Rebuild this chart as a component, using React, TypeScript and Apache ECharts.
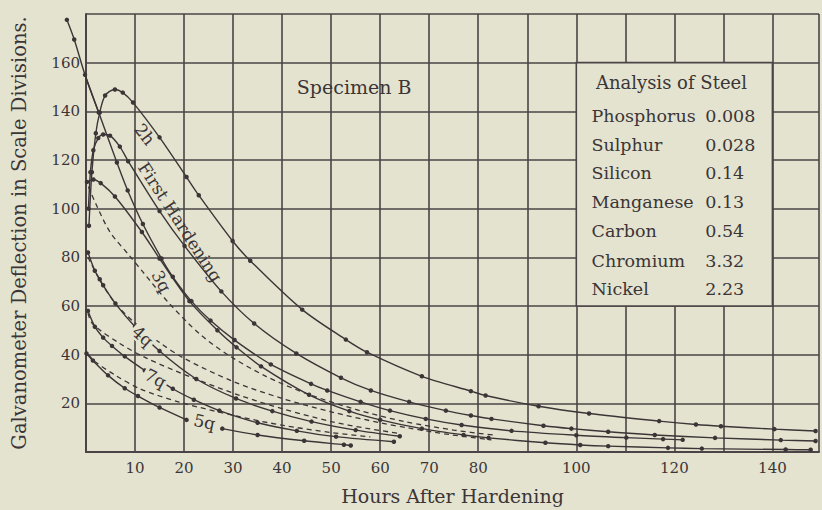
import React, { useEffect, useRef } from "react";
import * as echarts from "echarts";

type P = [number, number];

// Axis tick labels that are printed
const xLabelValues = [10, 20, 30, 40, 50, 60, 70, 80, 100, 120, 140];
const yLabelValues = [20, 40, 60, 80, 100, 120, 140, 160];

// Solid curves (hours, scale divisions)
const curve2h: P[] = [
  [0.6, 93], [1.2, 115], [2, 131], [2.8, 139.5], [3.9, 146.5], [5.9, 149], [7.5, 147.7],
  [9.6, 143.6], [15, 129.3], [20.5, 113], [23, 105.5], [29.9, 86.7], [33.5, 78.6],
  [44.1, 58.5], [53, 46.2], [57.3, 41], [68.5, 31.1], [78.5, 25], [81.5, 23.2],
  [92.3, 18.8], [102.6, 15.8], [116.9, 12.7], [124.4, 11.3], [129.5, 10.6], [140.4, 9.4],
  [148.8, 8.6],
];
const curveFirstHardening: P[] = [
  [0.5, 100], [0.9, 115], [1.5, 124], [2.5, 129], [3.5, 130.5], [4.9, 130], [6.9, 125.5],
  [8.6, 119.5], [15, 99], [20.1, 84.7], [27.6, 66], [34.3, 52.8], [42.9, 40.5], [52, 30.5],
  [58.1, 25.3], [65.9, 20.6], [73.4, 17], [78.5, 15], [82.7, 13.6], [93.3, 10.8],
  [99, 9.6], [106.5, 8.3], [116, 7], [128.3, 5.8], [141.7, 4.9], [148.8, 4.5],
];
const curveSteep: P[] = [
  [-3.9, 177.6], [-2.4, 169.5], [-0.2, 155], [2.6, 139.5], [6.3, 119], [8.5, 107.5],
  [11.6, 93.7], [15.4, 79.5], [17.7, 72], [21.5, 62], [25.4, 54], [30.3, 46],
  [37.7, 36], [45.9, 28], [49.2, 25.3], [56, 20.6], [62, 17], [69.3, 13.6],
  [76.6, 11.1], [86.8, 8.7], [100, 6.9], [110.2, 5.9], [117.7, 5.3], [121.7, 5.0],
];
const curve3q: P[] = [
  [0.2, 111], [1.5, 112], [3, 110.5], [5.9, 105], [11.4, 90.4], [15, 79.5], [21.1, 62],
  [26.8, 50], [30.7, 43], [35.7, 35.2], [45.5, 23.5], [53.7, 16.8], [60, 13.2],
  [68.5, 9.6], [77, 7], [82.1, 5.8], [93.7, 3.8], [100.8, 2.9], [106.5, 2.4],
  [118.7, 1.7], [125.6, 1.4], [142.7, 1.0], [147.8, 0.9],
];
const curve4q: P[] = [
  [0.4, 82], [1.8, 74.5], [2.8, 71], [3.5, 68.5], [6, 61], [10, 51.5], [15, 41.5],
  [22.5, 30], [30.6, 22], [38, 16.8], [46, 12.5], [55, 9], [64, 6.5],
];
const curve7q: P[] = [
  [0.4, 58], [1.8, 51.5], [3.5, 47], [5.3, 43.6], [7.9, 39.3], [12, 33.5], [17.7, 26],
  [22, 21.5], [27.2, 17], [35, 12], [43, 8.7], [51, 6.3], [62.8, 4.2],
];
const curve5q: P[] = [
  [0.1, 40.5], [1.4, 37.6], [4.5, 31.5], [7.9, 26.2], [10.6, 23], [15, 18.3], [20.5, 13.2],
];
const curve5qTail: P[] = [
  [27.8, 9.6], [35, 7], [44.5, 4.6], [52.6, 3], [54, 2.7],
];

// Dashed curves
const dashedA: P[] = [
  [0.5, 109], [2, 102], [4.9, 90.4], [8.9, 80.6], [11.6, 74], [17, 61], [23.2, 48.5],
  [29.3, 39.5], [36.8, 31], [45, 24], [55, 17.5], [65, 12.5], [75, 9], [83, 7],
];
const dashedB: P[] = [
  [0.4, 80], [3, 70], [6, 61], [10, 53], [15, 45], [20, 38.5], [30, 29], [40, 22],
  [50, 16.5], [60, 12], [66, 9.8], [74, 7.2], [82.7, 5],
];
const dashedC: P[] = [
  [0.4, 57], [1.4, 52.5], [6.9, 44.6], [12.4, 38.5], [21.1, 31], [31.3, 23.3],
  [40, 17.8], [50, 12.5], [57, 9.8], [64, 7.6],
];
const dashedD: P[] = [
  [0.5, 40], [1.8, 37.2], [6, 31.5], [11, 26], [19, 20.5], [31.3, 14.5], [40, 11],
  [50, 8], [58, 6.2],
];

// Annotation texts
const specimenLabel = "Specimen B";
const analysisTitle = "Analysis of Steel";
const analysisNames = ["Phosphorus", "Sulphur", "Silicon", "Manganese", "Carbon", "Chromium", "Nickel"];
const analysisValues = ["0.008", "0.028", "0.14", "0.13", "0.54", "3.32", "2.23"];
const curveLabels: { text: string; at: P; angle: number; mask: boolean }[] = [
  { text: "2h", at: [12, 130.5], angle: -52, mask: false },
  { text: "First Hardening", at: [19.2, 94.5], angle: -57, mask: false },
  { text: "3q", at: [15.4, 70.2], angle: -62, mask: false },
  { text: "4q", at: [11.6, 47.6], angle: -42, mask: true },
  { text: "7q", at: [14.2, 30.3], angle: -28, mask: true },
  { text: "5q", at: [24.2, 12.4], angle: -12, mask: true },
];

const INK = "#3b3537";
const GRIDC = "#4a4446";
const PAPER = "#e4e3cf";
const FONT = "'DejaVu Serif', 'Liberation Serif', serif";

function solid(data: P[], clip = true) {
  return {
    type: "line",
    data,
    smooth: 0.3,
    clip,
    symbol: "circle",
    symbolSize: 4.5,
    showSymbol: true,
    itemStyle: { color: INK },
    lineStyle: { color: INK, width: 1.4 },
    z: 3,
  };
}
function dashed(data: P[]) {
  return {
    type: "line",
    data,
    smooth: 0.3,
    showSymbol: false,
    lineStyle: { color: INK, width: 1.3, type: [5, 4] },
    z: 3,
  };
}

export default function App() {
  const ref = useRef<HTMLDivElement>(null);
  useEffect(() => {
    document.body.style.margin = "0";
    const chart = echarts.init(ref.current!, null, { renderer: "svg" });
    const option: any = {
      animation: false,
      backgroundColor: PAPER,
      grid: { left: 86, top: 14, right: 2, bottom: 56 },
      xAxis: {
        type: "value",
        min: 0,
        max: 149.5,
        interval: 10,
        name: "Hours After Hardening",
        nameLocation: "middle",
        nameGap: 34,
        nameTextStyle: { fontFamily: FONT, fontSize: 19, color: INK },
        axisLine: { show: true, lineStyle: { color: GRIDC, width: 2 } },
        axisTick: { show: false },
        splitLine: { show: true, lineStyle: { color: GRIDC, width: 1.6 } },
        axisLabel: {
          margin: 8,
          fontFamily: FONT,
          fontSize: 15,
          color: INK,
          formatter: (v: number) => (xLabelValues.includes(v) ? String(v) : ""),
        },
      },
      yAxis: {
        type: "value",
        min: 0,
        max: 180,
        interval: 20,
        name: "Galvanometer Deflection in Scale Divisions.",
        nameLocation: "middle",
        nameGap: 57,
        nameTextStyle: { fontFamily: FONT, fontSize: 19.5, color: INK },
        axisLine: { show: true, lineStyle: { color: GRIDC, width: 2 } },
        axisTick: { show: false },
        splitLine: { show: true, lineStyle: { color: GRIDC, width: 1.6 } },
        axisLabel: {
          margin: 6,
          fontFamily: FONT,
          fontSize: 15,
          color: INK,
          formatter: (v: number) => (yLabelValues.includes(v) ? String(v) : ""),
        },
      },
      series: [
        solid(curve2h),
        solid(curveFirstHardening),
        solid(curveSteep, false),
        solid(curve3q),
        solid(curve4q),
        solid(curve7q),
        solid(curve5q),
        solid(curve5qTail),
        dashed(dashedA),
        dashed(dashedB),
        dashed(dashedC),
        dashed(dashedD),
      ],
    };
    chart.setOption(option);

    const px = (x: number, y: number) => chart.convertToPixel({ gridIndex: 0 }, [x, y]) as number[];
    const g: any[] = [];
    // part of the first-hardening curve that runs outside the plotting frame
    g.push({
      type: "polyline",
      z: 4,
      shape: { points: curveSteep.slice(0, 4).map((p) => px(p[0], p[1])), smooth: 0.3 },
      style: { stroke: INK, lineWidth: 1.4, fill: "none" },
    });
    const tl = px(100, 160);
    const br = px(140, 60);
    g.push({
      type: "rect",
      z: 10,
      shape: { x: tl[0], y: tl[1], width: br[0] - tl[0], height: br[1] - tl[1] },
      style: { fill: PAPER, stroke: GRIDC, lineWidth: 1.6 },
    });
    const titleP = px(119.4, 151.8);
    g.push({
      type: "text", z: 11, x: titleP[0], y: titleP[1],
      style: { text: analysisTitle, fontFamily: FONT, fontSize: 18, fill: INK, align: "center", verticalAlign: "middle" },
    });
    const rowYs = [137.9, 126, 114.6, 102.7, 90.9, 78.6, 67.1];
    analysisNames.forEach((name, i) => {
      const a = px(103.1, rowYs[i]);
      const b = px(126.3, rowYs[i]);
      g.push({
        type: "text", z: 11, x: a[0], y: a[1],
        style: { text: name, fontFamily: FONT, fontSize: 17.5, fill: INK, align: "left", verticalAlign: "middle" },
      });
      g.push({
        type: "text", z: 11, x: b[0], y: b[1],
        style: { text: analysisValues[i], fontFamily: FONT, fontSize: 17.5, fill: INK, align: "left", verticalAlign: "middle" },
      });
    });
    const sp = px(43, 150);
    g.push({
      type: "text", z: 11, x: sp[0], y: sp[1],
      style: { text: specimenLabel, fontFamily: FONT, fontSize: 19, fill: INK, align: "left", verticalAlign: "middle" },
    });
    curveLabels.forEach((c) => {
      const p = px(c.at[0], c.at[1]);
      const style: any = { text: c.text, fontFamily: FONT, fontSize: 17, fill: INK, align: "center", verticalAlign: "middle" };
      if (c.mask) {
        style.backgroundColor = PAPER;
        style.padding = [0, 2];
      }
      g.push({ type: "text", z: 11, x: p[0], y: p[1], rotation: (c.angle * Math.PI) / 180, style });
    });
    chart.setOption({ graphic: g });
    return () => chart.dispose();
  }, []);
  return <div ref={ref} style={{ position: "fixed", left: 0, top: 0, width: 822, height: 510 }} />;
}
